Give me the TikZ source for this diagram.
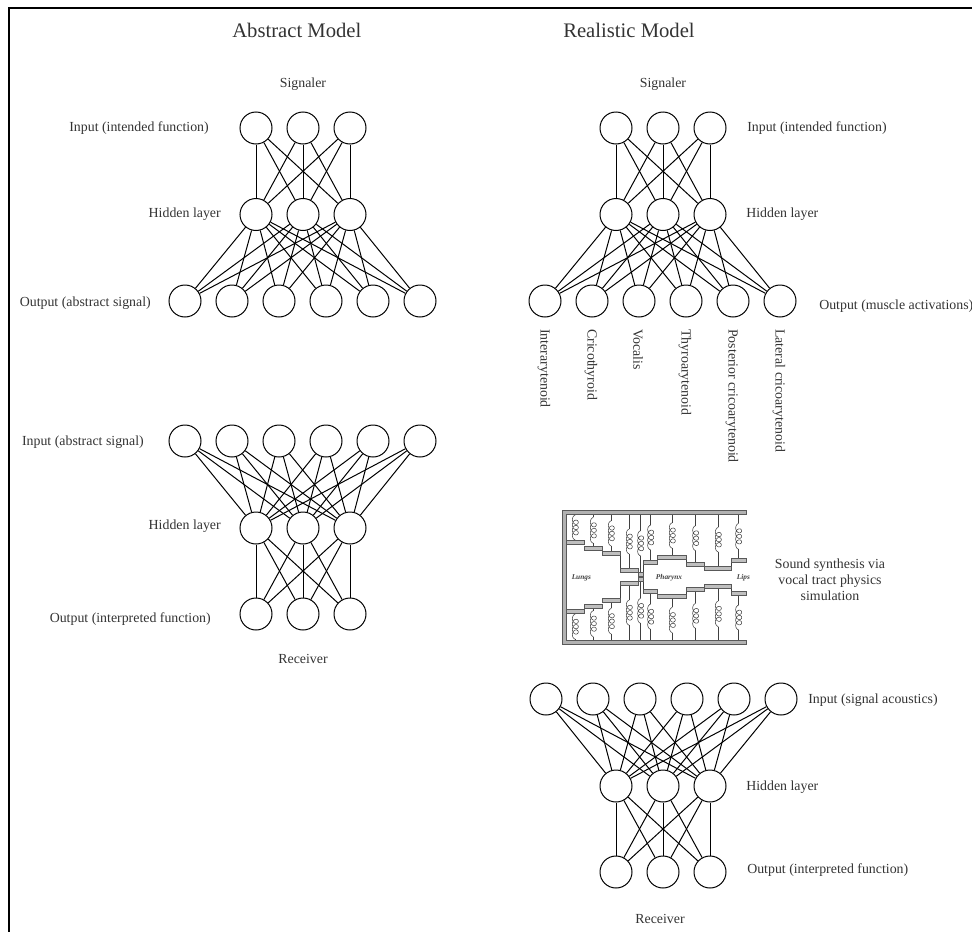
\documentclass[tikz,border=0pt]{standalone}
\usepackage{fontspec}
\setmainfont{Liberation Serif}
\tikzset{
    unit/.style={draw, circle, minimum size=24pt, inner sep=0pt, line width=0.75pt},
    link/.style={line width=0.75pt},
    labfont/.style={font=\fontsize{10.4}{12}\selectfont, text=black!80, inner sep=0pt},
    lab/.style={labfont, yshift=-1.5pt},
    title/.style={font=\fontsize{15.5}{18}\selectfont, text=black!80, inner sep=0pt},
    muscle/.style={labfont, rotate=-90, anchor=west},
    wall/.style={draw=black!65, fill=black!30, line width=0.4pt},
    plate/.style={draw=black!65, fill=black!25, line width=0.3pt},
    wire/.style={draw=black!75, line width=0.4pt},
    tract/.style={font=\fontsize{5.5}{6}\selectfont\itshape\bfseries, text=black!75, inner sep=0pt}
}
\newcommand{\springcoil}[3]{\draw[wire] plot[smooth, domain=0:3.5, samples=57, variable=\u]
    ({#1-9*sin(360*\u)}, {#2+10*(1-cos(360*\u))+(#3-#2-20)*\u/3.5});}
\begin{document}
\begin{tikzpicture}[x=0.75pt, y=-0.75pt]
    \useasboundingbox (0,0) rectangle (972,932);

    % frame
    \draw[line width=1.2pt] (972,8) -- (9,8) -- (9,932);

    \node[title, anchor=west] (abstract) at (232,30) {Abstract Model};
    \node[title, anchor=west] (realistic) at (563,30) {Realistic Model};

    % abstract signaler
    \foreach \i/\x in {1/256,2/303,3/350} {
        \node[unit] (a\i) at (\x,128) {};
        \node[unit] (b\i) at (\x,214.5) {};
    }
    \foreach \i/\x in {1/185,2/232,3/279,4/326,5/373,6/420}
        \node[unit] (c\i) at (\x,301) {};
    \foreach \i in {1,2,3} {
        \foreach \j in {1,2,3} \draw[link] (a\i) -- (b\j);
        \foreach \j in {1,...,6} \draw[link] (b\i) -- (c\j);
    }

    % abstract receiver
    \foreach \i/\x in {1/185,2/232,3/279,4/326,5/373,6/420}
        \node[unit] (d\i) at (\x,441) {};
    \foreach \i/\x in {1/256,2/303,3/350} {
        \node[unit] (e\i) at (\x,528) {};
        \node[unit] (f\i) at (\x,614) {};
    }
    \foreach \i in {1,2,3} {
        \foreach \j in {1,...,6} \draw[link] (e\i) -- (d\j);
        \foreach \j in {1,2,3} \draw[link] (e\i) -- (f\j);
    }

    % realistic signaler
    \foreach \i/\x in {1/616,2/663,3/710} {
        \node[unit] (g\i) at (\x,128) {};
        \node[unit] (h\i) at (\x,214.5) {};
    }
    \foreach \i/\x in {1/545,2/592,3/639,4/686,5/733,6/780}
        \node[unit] (k\i) at (\x,301) {};
    \foreach \i in {1,2,3} {
        \foreach \j in {1,2,3} \draw[link] (g\i) -- (h\j);
        \foreach \j in {1,...,6} \draw[link] (h\i) -- (k\j);
    }

    % realistic receiver
    \foreach \i/\x in {1/546,2/593,3/640,4/687,5/734,6/781}
        \node[unit] (m\i) at (\x,699) {};
    \foreach \i/\x in {1/616,2/663,3/710} {
        \node[unit] (n\i) at (\x,786) {};
        \node[unit] (p\i) at (\x,872) {};
    }
    \foreach \i in {1,2,3} {
        \foreach \j in {1,...,6} \draw[link] (n\i) -- (m\j);
        \foreach \j in {1,2,3} \draw[link] (n\i) -- (p\j);
    }

    % left labels
    \node[lab] (sigA) at (303,82) {Signaler};
    \node[lab, anchor=east] (inA) at (209,126) {Input (intended function)};
    \node[lab, anchor=east] (hidA) at (221,212) {Hidden layer};
    \node[lab, anchor=east] (outA) at (151,301) {Output (abstract signal)};
    \node[lab, anchor=east] (inB) at (144,440) {Input (abstract signal)};
    \node[lab, anchor=east] (hidB) at (221,524) {Hidden layer};
    \node[lab, anchor=east] (outB) at (211,617) {Output (interpreted function)};
    \node[lab] (recA) at (303,657) {Receiver};

    % right labels
    \node[lab] (sigC) at (663,82) {Signaler};
    \node[lab, anchor=west] (inC) at (747,126) {Input (intended function)};
    \node[lab, anchor=west] (hidC) at (746,212) {Hidden layer};
    \node[lab, anchor=west] (outC) at (819,304) {Output (muscle activations)};
    \node[muscle] (mus1) at (544,329) {Interarytenoid};
    \node[muscle] (mus2) at (591,329) {Cricothyroid};
    \node[muscle] (mus3) at (638,329) {Vocalis};
    \node[muscle] (mus4) at (685,329) {Thyroarytenoid};
    \node[muscle] (mus5) at (732,329) {Posterior cricoarytenoid};
    \node[muscle] (mus6) at (779,329) {Lateral cricoarytenoid};
    \node[lab, align=center] (synth) at (830,578) {Sound synthesis via\\vocal tract physics\\simulation};
    \node[lab, anchor=west] (inD) at (808,698) {Input (signal acoustics)};
    \node[lab, anchor=west] (hidD) at (746,785) {Hidden layer};
    \node[lab, anchor=west] (outD) at (747,868) {Output (interpreted function)};
    \node[lab] (recD) at (660,917) {Receiver};

    % vocal tract
    \begin{scope}[shift={(550,480)}, x=0.25pt, y=-0.25pt]
        % upper springs
        \foreach \x/\s/\t/\e in {76/105/180/182,130/112/190/199,184/122/198/214,238/147/222/265,272/152/228/277,302/135/210/241,367/128/205/226,437/137/212/247,505/142/216/258,566/130/208/236} {
            \draw[wire] (\x,100) -- (\x,\s);
            \springcoil{\x}{\s}{\t}
            \draw[wire] (\x,\t) -- (\x,\e);
        }
        % lower springs
        \foreach \x/\e/\s/\t in {76/400/402/478,130/384/392/470,184/368/385/462,238/317/360/436,272/305/355/430,302/340/372/448,367/356/382/458,437/335/370/445,505/325/363/440,566/346/375/450} {
            \draw[wire] (\x,\e) -- (\x,\s);
            \springcoil{\x}{\s}{\t}
            \draw[wire] (\x,\t) -- (\x,482);
        }
        % steps between plates
        \draw[wire] (211,226) -- (211,265) (280,248) -- (280,335) (211,305) -- (211,368);
        \draw[wire] (409,238) -- (409,247) (409,335) -- (409,344) (544,248) -- (544,258) (544,325) -- (544,334);
        % upper and lower plates
        \foreach \a/\b/\c in {50/103/182,103/157/199,157/211/214,211/265/265,265/280/277,280/323/241,323/409/226,409/463/247,463/544/258,544/588/236,50/103/388,103/157/372,157/211/356,211/265/305,265/280/293,280/323/328,323/409/344,409/463/323,463/544/313,544/588/334}
            \path[plate] (\a,\c) rectangle (\b,\c+12);
        % walls
        \path[wall] (588,92) -- (38,92) -- (38,492) -- (588,492) -- (588,480) -- (50,480) -- (50,102) -- (588,102) -- cycle;
        \node[tract] (lungs) at (94,293) {Lungs};
        \node[tract] (pharynx) at (357,293) {Pharynx};
        \node[tract] (lips) at (580,293) {Lips};
    \end{scope}
\end{tikzpicture}
\end{document}
